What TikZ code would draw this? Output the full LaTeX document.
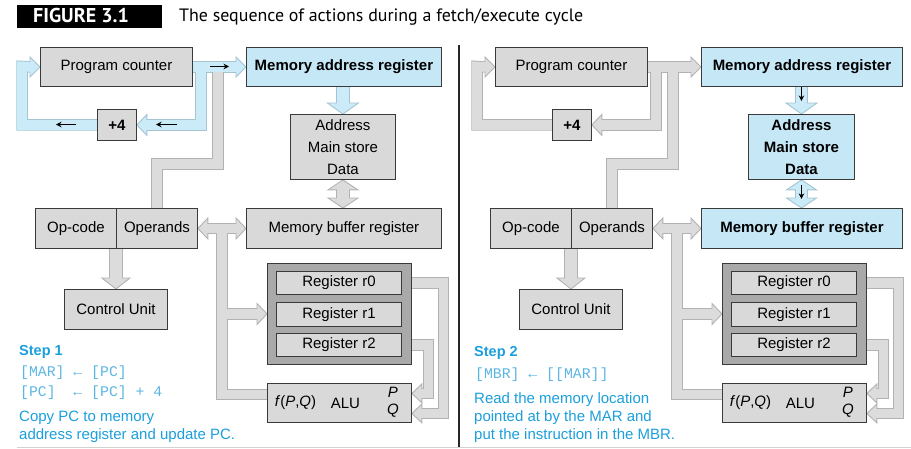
\documentclass[tikz,border=0pt]{standalone}
\usepackage{fontspec}
\setmainfont{Liberation Sans}
\setmonofont{Liberation Mono}
\newfontfamily\titlefont{PT Sans}
\usetikzlibrary{calc,arrows.meta}
\pgfdeclarelayer{bands}
\pgfsetlayers{bands,main}
\definecolor{boxgray}{HTML}{D9D9D9}
\definecolor{boxline}{HTML}{3A3A3A}
\definecolor{boxblue}{HTML}{C6E7F6}
\definecolor{regdark}{HTML}{A9A9A9}
\definecolor{bandGF}{HTML}{DCDCDC}
\definecolor{bandGO}{HTML}{B2B2B2}
\definecolor{bandBF}{HTML}{CBEBF8}
\definecolor{bandBO}{HTML}{A3C4D0}
\definecolor{stepblue}{HTML}{1B9FDC}
\definecolor{monoblue}{HTML}{5DB6E2}
\definecolor{rulegray}{HTML}{D2D2D2}
\tikzset{
 box/.style={draw=boxline, fill=boxgray, line width=0.9pt, inner sep=0pt, anchor=north west, font=\fontsize{15}{18}\selectfont},
 blueb/.style={box, fill=boxblue, font=\fontsize{15}{18}\selectfont\bfseries},
 grayb/.style={box},
 txt/.style={inner sep=0pt, font=\fontsize{15}{18}\selectfont},
 steph/.style={inner sep=0pt, anchor=base west, text=stepblue, font=\fontsize{14.5}{17}\selectfont\bfseries},
 stepd/.style={inner sep=0pt, anchor=base west, text=stepblue, font=\fontsize{15}{18}\selectfont},
 stepm/.style={inner sep=0pt, anchor=base west, text=monoblue, font=\fontsize{14.8}{17}\selectfont\ttfamily},
 gO/.style={draw=bandGO}, gF/.style={draw=bandGF},
 gH/.style={fill=bandGF, draw=bandGO, line width=0.9pt, line join=miter},
 bO/.style={draw=bandBO}, bF/.style={draw=bandBF},
 bH/.style={fill=bandBF, draw=bandBO, line width=0.9pt, line join=miter},
 nout/.style={line width=11.5pt, line cap=butt, line join=miter},
 nin/.style={line width=9.7pt, line cap=butt, line join=miter},
 wout/.style={line width=13.5pt, line cap=butt, line join=miter},
 win/.style={line width=11.7pt, line cap=butt, line join=miter},
 smallarr/.style={-{Stealth[length=5.5pt,width=5.5pt]}, line width=1.1pt, draw=black},
}
% fat arrow head: style, tip, direction, length, half width
\newcommand\fhead[5]{\begin{scope}[shift={(#2)},rotate=#3]\filldraw[#1] (0,0) -- (-#4,#5) -- (-#4,-#5) -- cycle;\end{scope}}
\newcommand\panelbody{%
 \node[grayb, minimum width=152pt, minimum height=39pt] (pc) at (40,47) {Program counter};
 \node[blueb, minimum width=\marW, minimum height=39pt] (mar) at (246,47) {Memory address register};
 \node[box, font=\fontsize{15}{18}\selectfont\bfseries, minimum width=39pt, minimum height=31pt] (p4) at (97,109) {+4};
 \node[msbox, minimum width=\msW, minimum height=65pt, align=center] (ms) at (\msX,114) {Address\\Main store\\Data};
 \node[grayb, minimum width=81pt, minimum height=40pt] (opc) at (35,208) {Op-code};
 \node[grayb, minimum width=81pt, minimum height=40pt] (opd) at (116,208) {Operands};
 \node[mbrbox, minimum width=\marW, minimum height=40pt] (mbr) at (246,208) {Memory buffer register};
 \node[grayb, minimum width=103pt, minimum height=40pt] (cu) at (64,289) {Control Unit};
 \node[grayb, fill=regdark, minimum width=144pt, minimum height=101pt] (rg) at (267,263) {};
 \node[grayb, minimum width=125pt, minimum height=23pt] (r0) at (276,271) {Register r0};
 \node[grayb, minimum width=125pt, minimum height=24pt] (r1) at (276,302) {Register r1};
 \node[grayb, minimum width=125pt, minimum height=23pt] (r2) at (276,333) {Register r2};
 \node[grayb, minimum width=144pt, minimum height=39pt] (alu) at (267,383) {};
 \node[txt] (aluf) at ($(alu.west)+(28.5,0)$) {\textit{f}(\textit{P},\textit{Q})};
 \node[txt] (alun) at ($(alu.center)+(6,0)$) {ALU};
 \node[txt] (alup) at ($(alu.east)+(-19,-10.5)$) {\textit{P}};
 \node[txt] (aluq) at ($(alu.east)+(-19,7.5)$) {\textit{Q}};
 \begin{pgfonlayer}{bands}
  \coordinate (jA) at (201,66.5);
  \coordinate (jB) at (218,66.5);
  \coordinate (jC) at (218,164);
  \coordinate (cL) at (22,66.5);
  % top group outlines
  \draw[nout,AO] (pc.east) -- ($(mar.west)+(-10,0)$);
  \draw[nout,AO] (jA) |- ($(p4.east)+(10,0)$);
  \draw[nout,AO] (p4.west) -| (cL) -- ($(pc.west)+(-10,0)$);
  \draw[nout,BO] (jB) -- (jC) -- (opd.north |- jC) -- (opd.north);
  \fhead{AH}{mar.west}{0}{10}{10}
  \fhead{AH}{p4.east}{180}{10}{10.5}
  \fhead{AH}{pc.west}{0}{10}{10}
  \draw[nin,BF] (jB) -- (jC) -- (opd.north |- jC) -- (opd.north);
  \draw[nin,AF] (pc.east) -- ($(mar.west)+(-9,0)$);
  \draw[nin,AF] (jA) |- ($(p4.east)+(9,0)$);
  \draw[nin,AF] (p4.west) -| (cL) -- ($(pc.west)+(-9,0)$);
  % MAR -> main store
  \draw[wout,CO] (ms.north |- mar.south) -- ($(ms.north)+(0,-11)$);
  \fhead{CH}{ms.north}{-90}{11}{15.5}
  \draw[win,CF] (ms.north |- mar.south) -- ($(ms.north)+(0,-10)$);
  % main store <-> MBR
  \draw[wout,DO] ($(ms.south)+(0,10)$) -- ($(ms.south |- mbr.north)+(0,-10)$);
  \fhead{DH}{ms.south}{90}{10}{15}
  \fhead{DH}{ms.south |- mbr.north}{-90}{10}{15}
  \draw[win,DF] ($(ms.south)+(0,9)$) -- ($(ms.south |- mbr.north)+(0,-9)$);
  % gray buses
  \coordinate (busJ) at ($(opd.east)!.5!(mbr.west)$);
  \coordinate (aluIn) at ($(alu.west)+(0,-8.5)$);
  \coordinate (pIn) at ($(alu.east)+(0,-9.5)$);
  \coordinate (qIn) at ($(alu.east)+(0,10.5)$);
  \draw[nout,gO] ($(opd.east)+(10,0)$) -- ($(mbr.west)+(-10,0)$);
  \draw[nout,gO] (busJ) |- (aluIn);
  \draw[nout,gO] (busJ |- rg.west) -- ($(rg.west)+(-10,0)$);
  \draw[wout,gO] (cu.north |- opd.south) -- ($(cu.north)+(0,-11)$);
  \draw[nout,gO] (r0.east -| rg.east) -- ++(31.5,0) |- ($(qIn)+(10,0)$);
  \draw[nout,gO] (r2.east -| rg.east) -- ++(16.5,0) |- ($(pIn)+(10,0)$);
  \fhead{gH}{opd.east}{180}{10}{10.5}
  \fhead{gH}{mbr.west}{0}{10}{10.5}
  \fhead{gH}{rg.west}{0}{10}{10.5}
  \fhead{gH}{cu.north}{-90}{11}{14}
  \fhead{gH}{qIn}{180}{10}{9.5}
  \fhead{gH}{pIn}{180}{10}{9.5}
  \draw[nin,gF] ($(opd.east)+(9,0)$) -- ($(mbr.west)+(-9,0)$);
  \draw[nin,gF] (busJ) |- (aluIn);
  \draw[nin,gF] (busJ |- rg.west) -- ($(rg.west)+(-9,0)$);
  \draw[win,gF] (cu.north |- opd.south) -- ($(cu.north)+(0,-10)$);
  \draw[nin,gF] (r0.east -| rg.east) -- ++(31.5,0) |- ($(qIn)+(9,0)$);
  \draw[nin,gF] (r2.east -| rg.east) -- ++(16.5,0) |- ($(pIn)+(9,0)$);
 \end{pgfonlayer}
}
\begin{document}
\begin{tikzpicture}[x=1pt,y=-1pt]
\useasboundingbox (0,0) rectangle (911,448);
% title
\node[fill=black, inner sep=0pt, minimum width=145pt, minimum height=23pt, anchor=north west] (figbox) at (17,5) {};
\node[inner sep=0pt, anchor=base west, text=white, font=\titlefont\fontsize{20}{22}\selectfont\bfseries] (fignum) at (33,22.5) {FIGURE 3.1};
\node[inner sep=0pt, anchor=base west, font=\titlefont\fontsize{17.9}{20}\selectfont] (figcap) at (179,21) {The sequence of actions during a fetch/execute cycle};
% divider and bottom rule
\coordinate (dvT) at (459,45);
\coordinate (dvB) at (459,447);
\draw[line width=1.5pt, draw=black!85] (dvT) -- (dvB);
\coordinate (brL) at (17,447);
\coordinate (brR) at (911,447);
\draw[line width=1pt, draw=rulegray] (brL) -- (brR);
% ---------- left panel ----------
\def\marW{195pt}\def\msX{290}\def\msW{105pt}
\begin{scope}[name prefix=L-,
  AO/.style={bO}, AF/.style={bF}, AH/.style={bH},
  BO/.style={gO}, BF/.style={gF},
  CO/.style={bO}, CF/.style={bF}, CH/.style={bH},
  DO/.style={gO}, DF/.style={gF}, DH/.style={gH},
  msbox/.style={grayb, font=\fontsize{15}{22}\selectfont},
  mbrbox/.style={grayb}]
 \panelbody
 \coordinate (a1s) at (210,66.5); \coordinate (a1e) at (229,66.5);
 \coordinate (a2s) at (177,124.5); \coordinate (a2e) at (156,124.5);
 \coordinate (a3s) at (76,124.5); \coordinate (a3e) at (56,124.5);
 \draw[smallarr] (a1s) -- (a1e);
 \draw[smallarr] (a2s) -- (a2e);
 \draw[smallarr] (a3s) -- (a3e);
 \node[steph] (st) at (19,355) {Step 1};
 \node[stepm] (sm1) at (20,376.7) {[MAR] ← [PC]};
 \node[stepm] (sm2) at (20,396) {[PC]~~← [PC] + 4};
 \node[stepd] (sd1) at (19,421.7) {Copy PC to memory};
 \node[stepd] (sd2) at (19,439.3) {address register and update PC.};
\end{scope}
% ---------- right panel ----------
\def\marW{201pt}\def\msX{293}\def\msW{106pt}
\begin{scope}[xshift=455pt, name prefix=R-,
  AO/.style={gO}, AF/.style={gF}, AH/.style={gH},
  BO/.style={gO}, BF/.style={gF},
  CO/.style={bO}, CF/.style={bF}, CH/.style={bH},
  DO/.style={bO}, DF/.style={bF}, DH/.style={bH},
  msbox/.style={blueb, font=\fontsize{15}{22}\selectfont\bfseries},
  mbrbox/.style={blueb}]
 \panelbody
 \coordinate (d1s) at ($(ms.north)+(0,-27)$); \coordinate (d1e) at ($(ms.north)+(0,-13)$);
 \coordinate (d2s) at ($(ms.south)+(0,5)$); \coordinate (d2e) at ($(ms.south)+(0,19)$);
 \draw[smallarr] (d1s) -- (d1e);
 \draw[smallarr] (d2s) -- (d2e);
 \node[steph] (st) at (19,356.7) {Step 2};
 \node[stepm] (sm1) at (20,378) {[MBR] ← [[MAR]]};
 \node[stepd] (sd1) at (19,403.3) {Read the memory location};
 \node[stepd] (sd2) at (19,421.7) {pointed at by the MAR and};
 \node[stepd] (sd3) at (19,439.3) {put the instruction in the MBR.};
\end{scope}
\end{tikzpicture}
\end{document}
